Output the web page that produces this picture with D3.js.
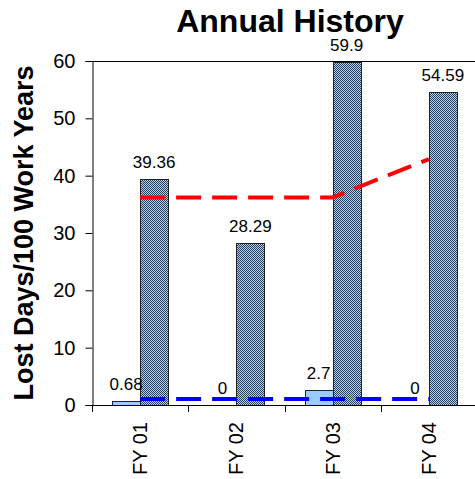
<!DOCTYPE html>
<html>
<head>
<meta charset="utf-8">
<script src="https://cdn.jsdelivr.net/npm/d3@7"></script>
<style>
  html, body { margin: 0; padding: 0; background: #fff; }
  svg { display: block; font-family: "Liberation Sans", Arial, sans-serif; }
</style>
</head>
<body>
<svg id="chart" width="475" height="479"></svg>
<script>
// Annual history of lost days per 100 work years
const categories = ["FY 01", "FY 02", "FY 03", "FY 04"];
const seriesKeys = ["unit", "total"];
const unitValues = [0.68, 0, 2.7, 0];
const totalValues = [39.36, 28.29, 59.9, 54.59];
const redLineValues = [36.2, 36.2, 36.2, 42.9];
const blueLineValues = [1.05, 1.05, 1.05, 1.05];
const yTicks = [0, 10, 20, 30, 40, 50, 60];

const svg = d3.select("#chart");
const plotLeft = 92, plotTop = 61, plotBottom = 405, plotRight = 477;

// fine two-colour checker used for the total bars
const defs = svg.append("defs");
const pat = defs.append("pattern")
  .attr("id", "checker")
  .attr("patternUnits", "userSpaceOnUse")
  .attr("width", 2).attr("height", 2);
pat.append("rect").attr("width", 2).attr("height", 2).attr("fill", "#b2d2f2");
pat.append("rect").attr("x", 0).attr("y", 0).attr("width", 1).attr("height", 1).attr("fill", "#283c5c");
pat.append("rect").attr("x", 1).attr("y", 1).attr("width", 1).attr("height", 1).attr("fill", "#283c5c");

const x0 = d3.scaleBand().domain(categories).range([plotLeft, plotRight]).padding(0);
const bw = x0.bandwidth();
const x1 = d3.scaleBand().domain(seriesKeys).range([0.21 * bw, 0.79 * bw]).padding(0);
const y = d3.scaleLinear().domain([0, 60]).range([plotBottom, plotTop]);

const barX = (c, k) => Math.round(x0(c) + x1(k));
const barW = Math.round(x1.bandwidth());

// plot frame top edge
svg.append("line")
  .attr("x1", plotLeft).attr("x2", 475).attr("y1", plotTop + 0.5).attr("y2", plotTop + 0.5)
  .attr("stroke", "#000").attr("stroke-width", 1);

// bars
const bars = svg.append("g");
bars.selectAll("rect.unit")
  .data(categories)
  .join("rect")
  .attr("class", "unit")
  .attr("x", d => barX(d, "unit") + 0.5)
  .attr("width", barW)
  .attr("y", (d, i) => Math.round(y(unitValues[i])) + 0.5)
  .attr("height", (d, i) => Math.round(y(0)) - Math.round(y(unitValues[i])))
  .attr("fill", "#99ccff")
  .attr("stroke", "#222")
  .attr("stroke-width", 1)
  .attr("display", (d, i) => unitValues[i] > 0 ? null : "none");

bars.selectAll("rect.total")
  .data(categories)
  .join("rect")
  .attr("class", "total")
  .attr("x", d => barX(d, "total"))
  .attr("width", barW)
  .attr("y", (d, i) => Math.round(y(totalValues[i])))
  .attr("height", (d, i) => Math.round(y(0)) - Math.round(y(totalValues[i])))
  .attr("fill", "url(#checker)");

bars.selectAll("rect.totalEdge")
  .data(categories)
  .join("rect")
  .attr("class", "totalEdge")
  .attr("x", d => barX(d, "total") + 0.5)
  .attr("width", barW)
  .attr("y", (d, i) => Math.round(y(totalValues[i])) + 0.5)
  .attr("height", (d, i) => Math.round(y(0)) - Math.round(y(totalValues[i])))
  .attr("fill", "none")
  .attr("stroke", "#222")
  .attr("stroke-width", 1);

// axes
const yAxis = svg.append("g")
  .attr("transform", `translate(${plotLeft + 0.5},0)`)
  .call(d3.axisLeft(y).tickValues(yTicks).tickSize(7).tickPadding(10).tickFormat(d3.format("d")));
yAxis.select(".domain").attr("stroke", "#000");
yAxis.selectAll("text").attr("font-size", 20).attr("fill", "#000")
  .attr("font-family", "'Liberation Sans', Arial, sans-serif");

const xAxis = svg.append("g")
  .attr("transform", `translate(0,${plotBottom})`)
  .call(d3.axisBottom(x0).tickSize(0).tickFormat(""));
xAxis.select(".domain").attr("d", `M${plotLeft},0.5H${plotRight}`).attr("stroke", "#000");
xAxis.selectAll(".tick").remove();

// category boundary ticks
svg.append("g").selectAll("line")
  .data(categories)
  .join("line")
  .attr("x1", d => Math.round(x0(d)) + 0.5)
  .attr("x2", d => Math.round(x0(d)) + 0.5)
  .attr("y1", plotBottom).attr("y2", plotBottom + 7)
  .attr("stroke", "#000");

// rotated category labels
svg.append("g").selectAll("text")
  .data(categories)
  .join("text")
  .attr("transform", d => `translate(${x0(d) + bw / 2},${plotBottom + 17}) rotate(-90)`)
  .attr("text-anchor", "end")
  .attr("dy", "0.35em")
  .attr("font-size", 20)
  .attr("fill", "#000")
  .text(d => d);

// dashed reference lines through category centres
const line = d3.line()
  .x((d, i) => x0(categories[i]) + bw / 2)
  .y(d => y(d));

svg.append("path")
  .datum(redLineValues)
  .attr("d", line)
  .attr("fill", "none")
  .attr("stroke", "#ff0000")
  .attr("stroke-width", 4)
  .attr("stroke-dasharray", "25,11");

svg.append("path")
  .datum(blueLineValues)
  .attr("d", line)
  .attr("fill", "none")
  .attr("stroke", "#0000ff")
  .attr("stroke-width", 4)
  .attr("stroke-dasharray", "25,11");

// value labels
const labels = svg.append("g").attr("font-size", 17).attr("fill", "#000").attr("text-anchor", "middle");
categories.forEach((c, i) => {
  labels.append("text")
    .attr("x", x0(c) + x1("unit") + x1.bandwidth() / 2)
    .attr("y", y(unitValues[i]) - 11)
    .text(unitValues[i]);
  labels.append("text")
    .attr("x", x0(c) + x1("total") + x1.bandwidth() / 2)
    .attr("y", y(totalValues[i]) - 11)
    .text(totalValues[i]);
});

// titles
svg.append("text")
  .attr("x", 290).attr("y", 32)
  .attr("text-anchor", "middle")
  .attr("font-size", 32)
  .attr("font-weight", "bold")
  .attr("fill", "#000")
  .text("Annual History");

svg.append("text")
  .attr("transform", `translate(33,${(plotTop + plotBottom) / 2}) rotate(-90)`)
  .attr("text-anchor", "middle")
  .attr("font-size", 27)
  .attr("font-weight", "bold")
  .attr("fill", "#000")
  .text("Lost Days/100 Work Years");
</script>
</body>
</html>
